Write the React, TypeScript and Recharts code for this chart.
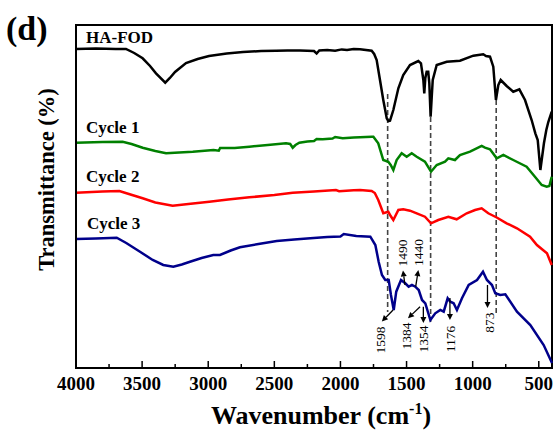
import { LineChart, Line, XAxis, YAxis, ReferenceLine, ReferenceArea, ReferenceDot, Label } from 'recharts'

const serif = 'Liberation Serif, DejaVu Serif, serif'
const textStyle = { fontFamily: serif }

// FTIR spectra, stacked with vertical offsets (arbitrary transmittance units)
const haFodWn = [4000, 3850, 3700, 3622, 3560, 3496, 3440, 3395, 3325, 3290, 3251, 3168, 3080, 2994, 2860, 2737, 2600, 2487, 2400, 2306, 2200, 2180, 2160, 2100, 2040, 1990, 1950, 1900, 1852, 1764, 1745, 1726, 1701, 1676, 1650, 1637, 1625, 1600, 1562, 1525, 1474, 1411, 1391, 1373, 1366, 1358, 1348, 1336, 1328, 1318, 1310, 1302, 1272, 1196, 1096, 995, 920, 899, 869, 844, 824, 806, 788, 743, 693, 647, 604, 554, 526, 508, 488, 461, 443, 428, 402]
const haFodT = [319, 319.5, 319, 319, 315, 309.7, 302, 294.7, 285.3, 290, 296, 305, 309, 312, 314.5, 316, 317, 317.3, 317.5, 317.5, 317, 314.5, 317.5, 318, 317.2, 318.6, 318, 319, 318.7, 317.3, 314, 308, 288, 268, 249.7, 247, 247.3, 258, 279.7, 293, 303, 307, 304.7, 288, 274.7, 290, 296.3, 296.3, 285, 251.3, 270, 288, 303, 306.3, 307.3, 312.3, 313.7, 312, 311.3, 301.3, 268, 283, 288, 282, 276.3, 278.7, 268, 248, 234.7, 228, 198, 224.7, 238, 246, 256.3]

const cycle1Wn = [4000, 3800, 3647, 3580, 3496, 3400, 3319, 3220, 3117, 2960, 2920, 2910, 2800, 2689, 2550, 2412, 2380, 2361, 2340, 2311, 2250, 2200, 2180, 2134, 2060, 2040, 1983, 1900, 1852, 1764, 1751, 1714, 1676, 1638, 1620, 1600, 1575, 1537, 1499, 1461, 1423, 1361, 1315, 1272, 1209, 1184, 1134, 1096, 1020, 932, 907, 869, 818, 768, 693, 592, 529, 478, 440, 420, 402]
const cycle1T = [225.3, 226, 226.3, 224, 220.3, 217, 214.7, 215.5, 216.3, 218, 217.3, 220, 220, 221.3, 223, 224.7, 224, 220.3, 223, 225.3, 226.5, 227, 229, 228.7, 229.5, 231, 229.7, 230.5, 230.7, 231.3, 231.3, 224.7, 208, 206.3, 203, 198, 208, 214.7, 211.3, 214.7, 211.3, 206.3, 196.3, 203, 206.3, 209.7, 208, 213, 216.3, 222, 220.3, 218.7, 209.7, 213, 208, 201.3, 191.3, 183, 181.3, 182, 191.3]

const cycle2Wn = [4000, 3800, 3672, 3600, 3496, 3400, 3269, 3150, 2992, 2850, 2689, 2500, 2361, 2200, 2034, 2010, 1900, 1852, 1764, 1740, 1714, 1676, 1638, 1620, 1600, 1562, 1525, 1474, 1423, 1361, 1315, 1260, 1184, 1121, 1045, 982, 932, 882, 818, 743, 665, 566, 514, 438, 402]
const cycle2T = [175.3, 176.5, 177, 174, 169.7, 165.5, 162.3, 164, 166.3, 168.5, 170.7, 173, 175.3, 176.5, 178, 176.8, 177.8, 178, 177, 175, 168, 154.7, 156.3, 152, 148, 158, 158.7, 157.3, 154.7, 151.3, 144.7, 148, 151.3, 148.7, 154.7, 158, 159.7, 154.7, 150.5, 144.7, 139.7, 131.3, 123, 114.7, 103]

const cycle3Wn = [4000, 3850, 3692, 3620, 3516, 3420, 3340, 3264, 3200, 3138, 3050, 2962, 2911, 2830, 2760, 2620, 2482, 2350, 2228, 2100, 2000, 1975, 1880, 1774, 1736, 1711, 1686, 1661, 1635, 1618, 1597, 1578, 1542, 1510, 1484, 1459, 1434, 1408, 1383, 1358, 1320, 1283, 1245, 1219, 1189, 1169, 1144, 1119, 1081, 1030, 967, 922, 892, 854, 829, 791, 753, 665, 564, 463, 400]
const cycle3T = [129, 129.5, 130.3, 125, 116.3, 108, 103, 101.3, 103.5, 106.3, 110, 113, 113, 117.5, 120.7, 124, 127, 128.5, 129.7, 131, 131.5, 134, 132, 131.3, 123, 106.3, 93, 88, 88, 73, 58, 76.3, 88, 84.7, 81.3, 83, 81.3, 78, 68, 64.7, 48, 54.7, 58, 56.3, 69.7, 66.3, 64.7, 58, 69.7, 83, 88, 96.3, 88, 83, 74.7, 73, 73.7, 56.3, 43, 23, 5]

const seriesNames = ['HA-FOD', 'Cycle 1', 'Cycle 2', 'Cycle 3']
const seriesColors = ['#000000', '#008000', '#ff0000', '#00008b']
const nameWn = [3924, 3924, 3924, 3917]
const nameT = [325, 235, 186, 139]

// dashed guides through the shared bands
const guideWn = [1643, 1318, 822]
const guideTop = [274, 251, 268]
const guideBottom = [56, 46, 54]

// band assignments on the Cycle 3 spectrum
const peakLabels = ['1598', '1490', '1440', '1384', '1354', '1176', '873']
const peakFrom = [[1602, 58], [1512, 83], [1431, 81.3], [1398, 61.3], [1373, 61.3], [1172, 70], [888, 83]]
const peakTo = [[1687, 46.5], [1527, 97.5], [1411, 98], [1489, 49.7], [1373, 45], [1172, 48], [888, 60]]
const peakText = [[1694, 28], [1529, 115], [1411, 115.5], [1499, 32], [1373, 29], [1166, 29], [869, 45.5]]

const xTicks = [4000, 3750, 3500, 3250, 3000, 2750, 2500, 2250, 2000, 1750, 1500, 1250, 1000, 750, 500]

const toPoints = (wn: number[], t: number[]) => wn.map((w, i) => ({ wn: w, t: t[i] }))
const series = [toPoints(haFodWn, haFodT), toPoints(cycle1Wn, cycle1T), toPoints(cycle2Wn, cycle2T), toPoints(cycle3Wn, cycle3T)]

function WnTick(props: any) {
  const { x, y, payload } = props
  const major = payload.value % 500 === 0
  return (
    <g>
      <line x1={x} x2={x} y1={y} y2={y - (major ? 7 : 4)} stroke="#000" strokeWidth={1.5} />
      {major && (
        <text x={x} y={y + 22} textAnchor="middle" style={textStyle} fontWeight="bold" fontSize={19} fill="#000">
          {payload.value}
        </text>
      )}
    </g>
  )
}

function Arrow(props: any) {
  const { x1, y1, x2, y2 } = props
  const dx = x2 - x1
  const dy = y2 - y1
  const len = Math.sqrt(dx * dx + dy * dy) || 1
  const ux = dx / len
  const uy = dy / len
  const hl = 6
  const hw = 3
  const bx = x2 - ux * hl
  const by = y2 - uy * hl
  return (
    <g>
      <line x1={x1} y1={y1} x2={bx} y2={by} stroke="#000" strokeWidth={1.3} />
      <polygon points={`${x2},${y2} ${bx - uy * hw},${by + ux * hw} ${bx + uy * hw},${by - ux * hw}`} fill="#000" />
    </g>
  )
}

export default function App() {
  return (
    <div style={{ position: 'absolute', left: 0, top: 0, width: 554, height: 431, background: '#fff' }}>
      <LineChart width={554} height={431} margin={{ top: 25, right: 2, left: 0, bottom: 0 }}>
        <XAxis
          type="number"
          dataKey="wn"
          domain={[400, 4000]}
          reversed
          ticks={xTicks}
          interval={0}
          tickSize={0}
          tickMargin={0}
          tickLine={false}
          tick={<WnTick />}
          height={63}
          axisLine={{ stroke: '#000', strokeWidth: 2 }}
        >
          <Label
            content={(p: any) => {
              const vb = p.viewBox
              return (
                <text x={vb.x + vb.width / 2 + 7} y={vb.y + 56} textAnchor="middle" style={textStyle} fontWeight="bold" fontSize={26} fill="#000">
                  Wavenumber (cm<tspan dy={-10} fontSize={16}>-1</tspan><tspan dy={10}>)</tspan>
                </text>
              )
            }}
          />
        </XAxis>
        <YAxis type="number" domain={[0, 343]} width={76} tick={false} tickLine={false} axisLine={{ stroke: '#000', strokeWidth: 2 }}>
          <Label
            content={(p: any) => {
              const vb = p.viewBox
              const cx = vb.x + 46
              const cy = vb.y + vb.height / 2 - 17
              return (
                <text x={cx} y={cy} transform={`rotate(-90 ${cx} ${cy})`} textAnchor="middle" dominantBaseline="central" style={textStyle} fontWeight="bold" fontSize={22.5} fill="#000">
                  Transmittance (%)
                </text>
              )
            }}
          />
        </YAxis>
        <ReferenceArea x1={4000} x2={400} y1={0} y2={343} fill="none" stroke="#000" strokeWidth={2} ifOverflow="visible" />
        {guideWn.map((w, i) => (
          <ReferenceLine key={`g${i}`} segment={[{ x: w, y: guideTop[i] }, { x: w, y: guideBottom[i] }]} stroke="#444" strokeWidth={1.6} strokeDasharray="5 3" />
        ))}
        {series.map((d, i) => (
          <Line key={seriesNames[i]} data={d} dataKey="t" type="linear" stroke={seriesColors[i]} strokeWidth={2.5} dot={false} isAnimationActive={false} />
        ))}
        {seriesNames.map((n, i) => (
          <ReferenceDot
            key={`n${i}`}
            x={nameWn[i]}
            y={nameT[i]}
            r={1}
            shape={(p: any) => (
              <text x={p.cx} y={p.cy} style={textStyle} fontWeight="bold" fontSize={17} fill="#000">
                {n}
              </text>
            )}
          />
        ))}
        {peakLabels.map((l, i) => (
          <ReferenceLine
            key={`a${i}`}
            segment={[{ x: peakFrom[i][0], y: peakFrom[i][1] }, { x: peakTo[i][0], y: peakTo[i][1] }]}
            shape={(p: any) => <Arrow {...p} />}
          />
        ))}
        {peakLabels.map((l, i) => (
          <ReferenceDot
            key={`l${i}`}
            x={peakText[i][0]}
            y={peakText[i][1]}
            r={1}
            shape={(p: any) => (
              <text x={p.cx} y={p.cy} transform={`rotate(-90 ${p.cx} ${p.cy})`} textAnchor="middle" dominantBaseline="central" style={textStyle} fontSize={13.5} fill="#000">
                {l}
              </text>
            )}
          />
        ))}
      </LineChart>
      <svg width={554} height={431} style={{ position: 'absolute', left: 0, top: 0, pointerEvents: 'none' }}>
        <text x={6} y={40} style={textStyle} fontWeight="bold" fontSize={34} fill="#000">(d)</text>
      </svg>
    </div>
  )
}
